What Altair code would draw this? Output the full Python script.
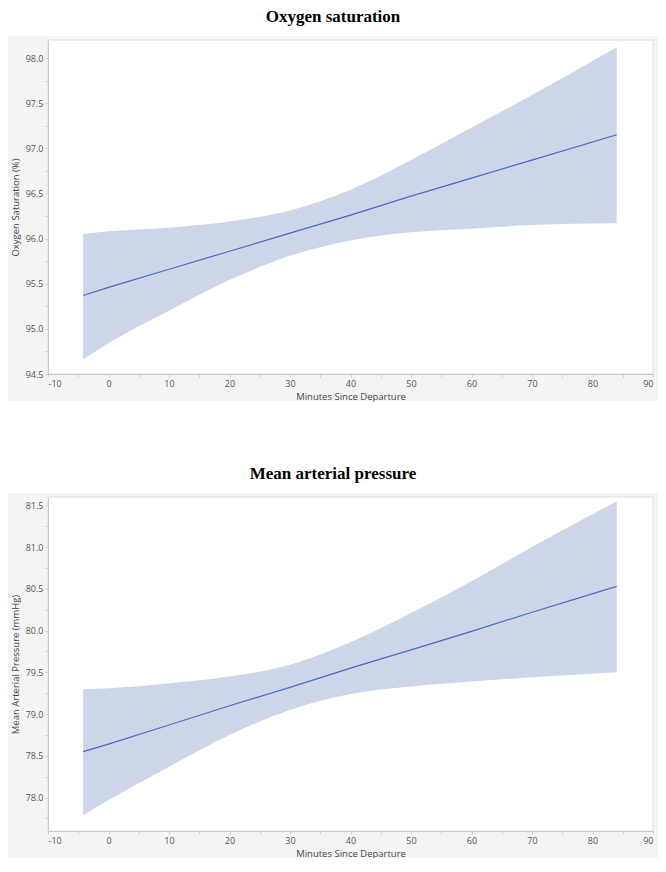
import altair as alt
import pandas as pd

# Minutes since departure at which the fitted curve / band were read
minutes = [-4.2, 0, 10, 20, 30, 40, 50, 60, 70, 84]

# Oxygen saturation (%)
spo2_fit = [95.37, 95.46, 95.66, 95.86, 96.06, 96.26, 96.47, 96.67, 96.87, 97.15]
spo2_lo = [94.66, 94.84, 95.20, 95.54, 95.81, 95.98, 96.07, 96.11, 96.15, 96.17]
spo2_hi = [96.05, 96.08, 96.12, 96.19, 96.31, 96.54, 96.87, 97.23, 97.59, 98.12]

# Mean arterial pressure (mmHg)
map_fit = [78.55, 78.64, 78.87, 79.10, 79.32, 79.55, 79.77, 79.99, 80.22, 80.53]
map_lo = [77.79, 77.97, 78.37, 78.75, 79.05, 79.24, 79.33, 79.39, 79.44, 79.50]
map_hi = [79.30, 79.31, 79.37, 79.45, 79.59, 79.86, 80.21, 80.59, 81.00, 81.55]

x_ticks = [-10, -5, 0, 5, 10, 15, 20, 25, 30, 35, 40, 45, 50, 55, 60, 65, 70, 75, 80, 85, 90]
spo2_ticks = [94.5, 94.75, 95.0, 95.25, 95.5, 95.75, 96.0, 96.25, 96.5, 96.75,
              97.0, 97.25, 97.5, 97.75, 98.0]
map_ticks = [77.75, 78.0, 78.25, 78.5, 78.75, 79.0, 79.25, 79.5, 79.75, 80.0,
             80.25, 80.5, 80.75, 81.0, 81.25, 81.5]

W, H = 605, 334
BAND = "#cdd5e8"
LINE = "#4d68c2"
PANEL_BG = "#f4f4f4"

x_label_expr = "datum.value % 10 === 0 ? ('' + round(datum.value)) : ''"
y_label_expr = "abs(datum.value * 2 - round(datum.value * 2)) < 0.01 ? format(datum.value, '.1f') : ''"


def panel(title, ytitle, fit, lo, hi, ydomain, yticks):
    df = pd.DataFrame({"minutes": minutes, "fit": fit, "lo": lo, "hi": hi})
    one = pd.DataFrame({"k": [0]})
    xs = alt.Scale(domain=[-10, 90], nice=False, zero=False)
    ys = alt.Scale(domain=ydomain, nice=False, zero=False)

    bg = alt.Chart(one).mark_rect(fill=PANEL_BG, strokeWidth=0).encode(
        x=alt.value(-40), x2=alt.value(W + 5), y=alt.value(-4), y2=alt.value(H + 27)
    )
    plot = alt.Chart(one).mark_rect(fill="white", stroke="#dedede", strokeWidth=1).encode(
        x=alt.value(0), x2=alt.value(W), y=alt.value(0), y2=alt.value(H)
    )
    band = alt.Chart(df).mark_area(color=BAND, opacity=1, interpolate="monotone").encode(
        x=alt.X("minutes:Q", scale=xs,
                axis=alt.Axis(title="Minutes Since Departure", values=x_ticks,
                              tickCount=200, labelExpr=x_label_expr, labelOverlap=False,
                              titlePadding=3, zindex=2)),
        y=alt.Y("lo:Q", scale=ys,
                axis=alt.Axis(title=ytitle, values=yticks, tickCount=200,
                              labelExpr=y_label_expr, labelOverlap=False,
                              titlePadding=5, zindex=2)),
        y2="hi:Q",
    )
    line = alt.Chart(df).mark_line(color=LINE, strokeWidth=1.2).encode(
        x=alt.X("minutes:Q", scale=xs),
        y=alt.Y("fit:Q", scale=ys),
    )
    return alt.layer(bg, plot, band, line).properties(
        width=W,
        height=H,
        title=alt.TitleParams(title, font="Liberation Serif", fontSize=17,
                              fontWeight="bold", color="black", anchor="middle",
                              frame="bounds", offset=10),
    )


top = panel("Oxygen saturation", "Oxygen Saturation (%)", spo2_fit, spo2_lo, spo2_hi,
            [94.5, 98.2], spo2_ticks)
bottom = panel("Mean arterial pressure", "Mean Arterial Pressure (mmHg)", map_fit, map_lo,
               map_hi, [77.6, 81.6], map_ticks)

chart = alt.vconcat(top, bottom, spacing=64).properties(
    padding=0, background="white"
).configure_view(stroke=None).configure_axis(
    grid=False,
    labelFont="Open Sans",
    labelFontSize=9,
    labelColor="#555555",
    labelPadding=2,
    titleFont="Open Sans",
    titleFontSize=9.5,
    titleFontWeight="normal",
    titleColor="#444444",
    domainColor="#c8c8c8",
    tickColor="#d0d0d0",
    tickSize=3,
)

chart.save("out.html", embed_options={"renderer": "svg", "actions": False})
